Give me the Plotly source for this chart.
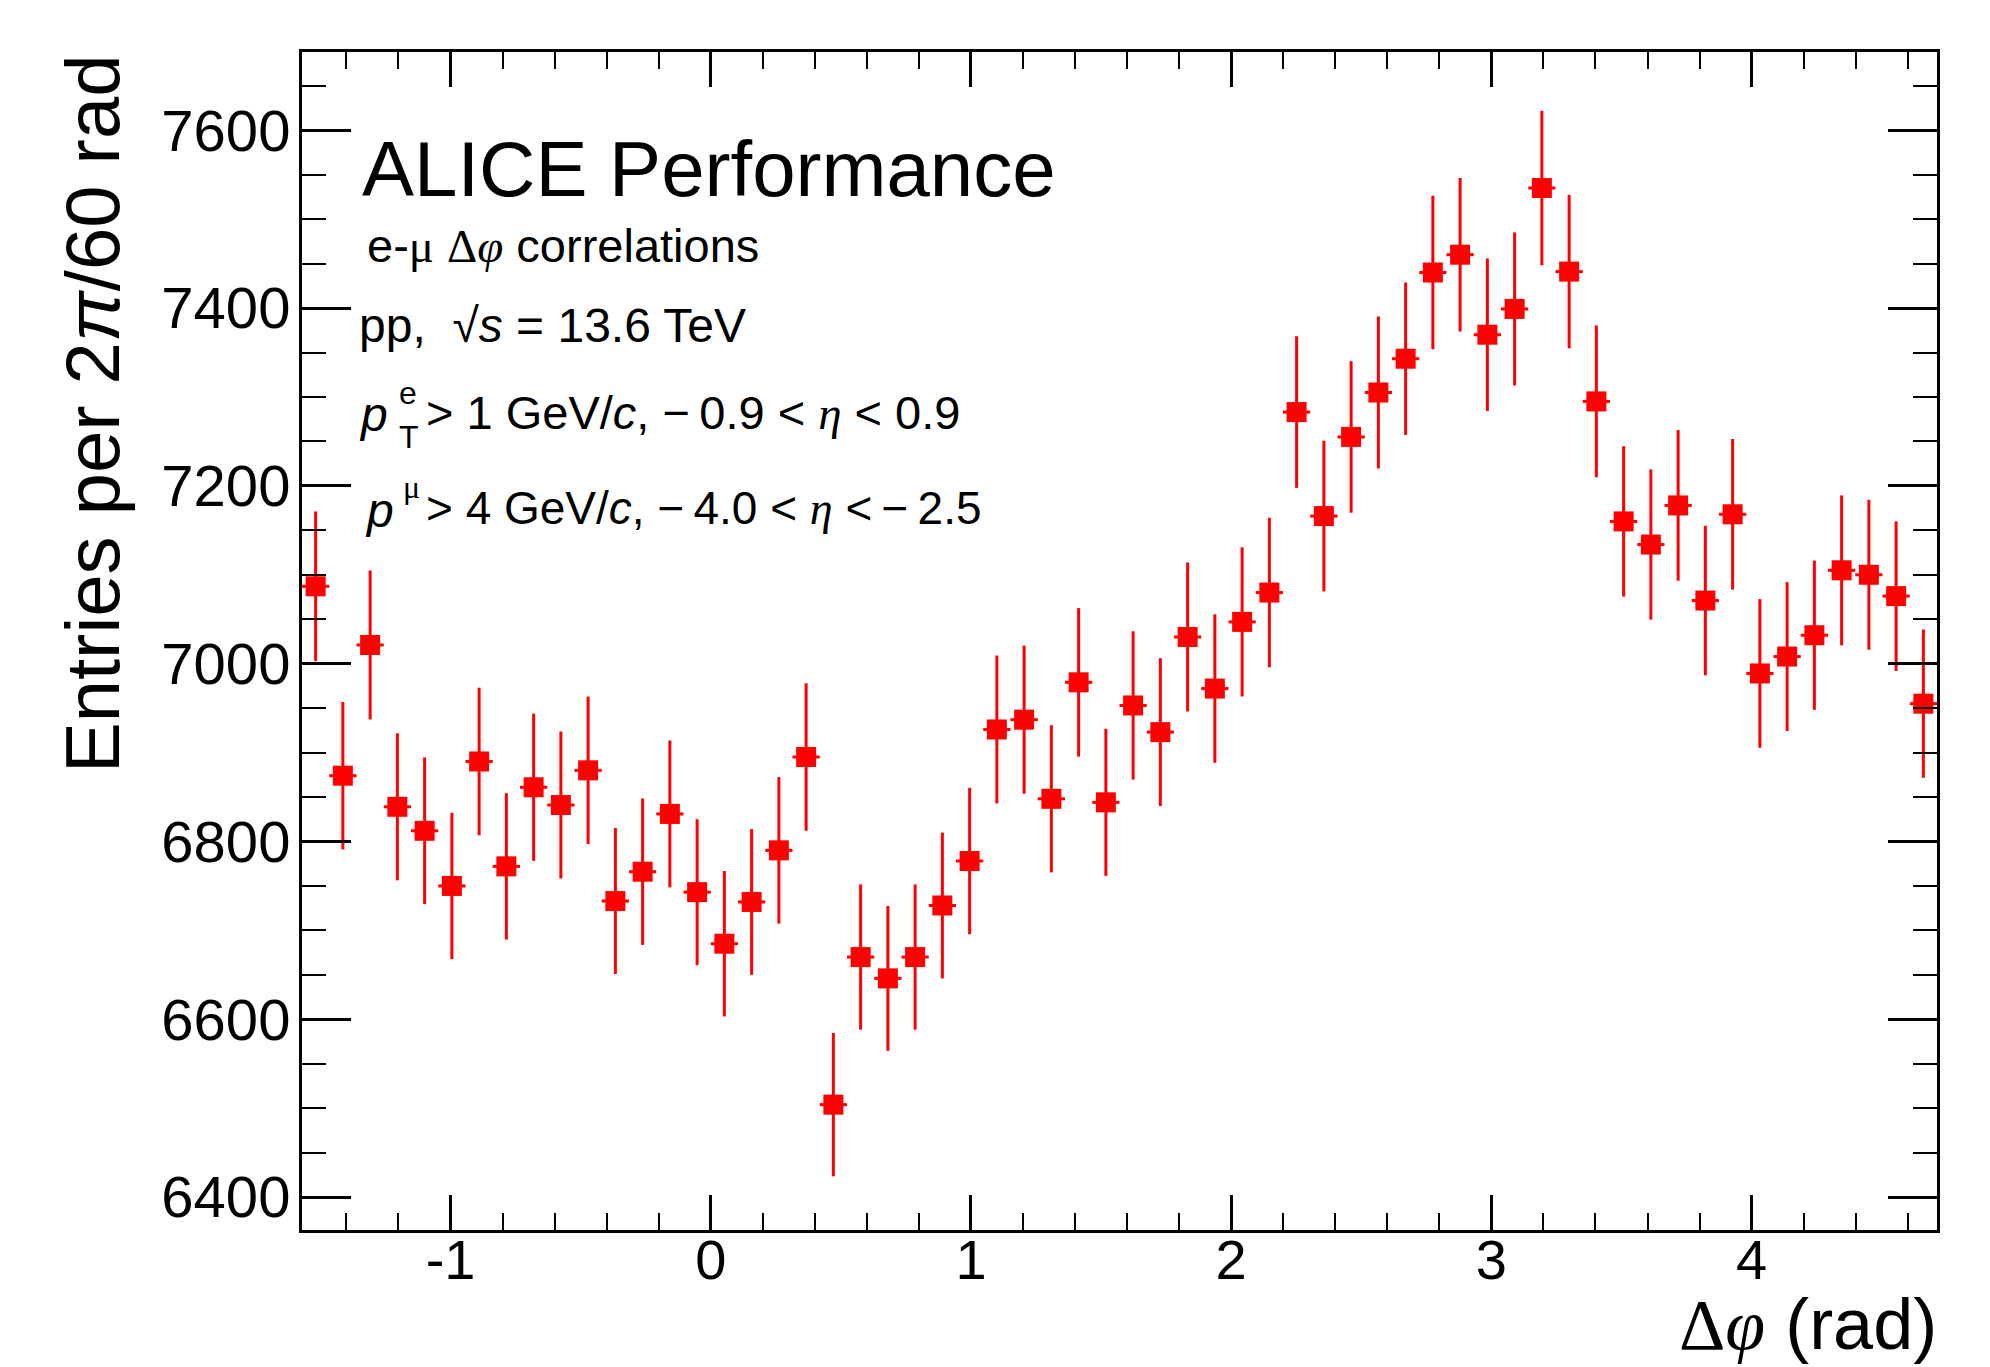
import numpy as np
import plotly.graph_objects as go

# ---------------- data ----------------
n_bins = 60
x_low = -np.pi / 2
x_high = 3 * np.pi / 2

entries = [7087, 6874, 7021, 6839, 6812, 6750, 6890, 6772, 6861, 6841,
           6880, 6733, 6766, 6831, 6743, 6685, 6732, 6790, 6895, 6504,
           6670, 6646, 6670, 6728, 6778, 6926, 6937, 6848, 6979, 6844,
           6953, 6923, 7030, 6972, 7047, 7080, 7283, 7166, 7255, 7305,
           7343, 7440, 7460, 7370, 7399, 7535, 7441, 7295, 7160, 7134,
           7178, 7071, 7168, 6989, 7008, 7032, 7105, 7100, 7076, 6955]

errors = [84.2, 82.9, 83.8, 82.7, 82.5, 82.2, 83.0, 82.3, 82.8, 82.7,
          82.9, 82.1, 82.3, 82.6, 82.1, 81.8, 82.0, 82.4, 83.0, 80.6,
          81.7, 81.5, 81.7, 82.0, 82.3, 83.2, 83.3, 82.8, 83.5, 82.7,
          83.4, 83.2, 83.8, 83.5, 83.9, 84.1, 85.3, 84.7, 85.2, 85.5,
          85.7, 86.3, 86.4, 85.8, 86.0, 86.8, 86.3, 85.4, 84.6, 84.5,
          84.7, 84.1, 84.7, 83.6, 83.7, 83.9, 84.3, 84.3, 84.1, 83.4]

x_tickvals = [-1, 0, 1, 2, 3, 4]
x_ticktext = ["-1", "0", "1", "2", "3", "4"]
y_tickvals = [6400, 6600, 6800, 7000, 7200, 7400, 7600]
y_ticktext = ["6400", "6600", "6800", "7000", "7200", "7400", "7600"]
y_range = [6363, 7688]

edges = np.linspace(x_low, x_high, n_bins + 1)
centers = 0.5 * (edges[:-1] + edges[1:])
half_width = 0.5 * (edges[1] - edges[0])

# ---------------- geometry ----------------
W, H = 1990, 1367
L, R, T, B = 302, 1937, 52, 1230  # frame in pixels

def px(xp):
    return (xp - L) / (R - L)

def py(yp):
    return (B - yp) / (B - T)

SANS = "Liberation Sans, Arial, Helvetica, sans-serif"
RED = "#ff0000"

fig = go.Figure()
fig.add_trace(go.Scatter(
    x=centers, y=entries,
    mode="markers",
    marker=dict(symbol="square", size=20, color=RED, line=dict(width=0)),
    error_y=dict(type="data", array=errors, visible=True, color=RED,
                 thickness=3, width=0),
    error_x=dict(type="constant", value=half_width, visible=True, color=RED,
                 thickness=3, width=0),
    showlegend=False,
    hoverinfo="x+y",
))

fig.update_layout(
    width=W, height=H,
    margin=dict(l=L, r=W - R, t=T, b=H - B, pad=0),
    paper_bgcolor="white", plot_bgcolor="white",
    font=dict(family=SANS, color="black"),
    xaxis=dict(
        range=[x_low, x_high], showgrid=False, zeroline=False,
        showline=True, linecolor="black", linewidth=3, mirror="allticks",
        ticks="inside", ticklen=35, tickwidth=3, tickcolor="black",
        tickmode="array", tickvals=x_tickvals, ticktext=x_ticktext,
        tickfont=dict(size=56, family=SANS, color="black"),
        ticklabelstandoff=-21,
        minor=dict(ticks="inside", ticklen=17, tickwidth=2, tickcolor="black",
                   tick0=0, dtick=0.2, showgrid=False),
    ),
    yaxis=dict(
        range=y_range, showgrid=False, zeroline=False,
        showline=True, linecolor="black", linewidth=3, mirror="allticks",
        ticks="inside", ticklen=49, tickwidth=3, tickcolor="black",
        tickmode="array", tickvals=y_tickvals, ticktext=y_ticktext,
        tickfont=dict(size=58, family=SANS, color="black"),
        ticklabelstandoff=-3,
        minor=dict(ticks="inside", ticklen=24, tickwidth=2, tickcolor="black",
                   tick0=6400, dtick=50, showgrid=False),
    ),
)

ann = []
def add_text(text, x, y, size, xanchor="left", yanchor="middle", angle=0, family=SANS):
    ann.append(dict(text=text, x=px(x), y=py(y), xref="paper", yref="paper",
                    xanchor=xanchor, yanchor=yanchor, showarrow=False,
                    textangle=angle, font=dict(size=size, family=family, color="black")))

phi = '<span style="font-family:Liberation Serif"><i>φ</i></span>'
Delta = '<span style="font-family:Liberation Serif">Δ</span>'
mu = '<span style="font-family:Liberation Serif">μ</span>'
eta = '<span style="font-family:Liberation Serif"><i>η</i></span>'
ts = "\u2009"  # thin space

add_text("ALICE Performance", 360, 169, 78)
add_text("e-" + mu + " " + Delta + phi + " correlations", 365, 245, 47)
add_text("pp,  √<i>s</i> = 13.6 TeV", 357, 325, 48)

# line with p_T^e
add_text("<i>p</i>", 357, 414, 48)
add_text("e", 397, 393, 32)
add_text("T", 397, 437, 32)
add_text("&gt; 1 GeV/<i>c</i>, −" + ts + "0.9 &lt; " + eta + " &lt; 0.9", 424, 412, 47)

# line with p^mu
add_text("<i>p</i>", 363, 511, 48)
add_text(mu, 401, 487, 32)
add_text("&gt; 4 GeV/<i>c</i>, −" + ts + "4.0 &lt; " + eta + " &lt;" + ts + "−" + ts + "2.5", 424, 508, 46)

# axis titles
add_text(Delta + phi + " (rad)", 1939, 1324, 72, xanchor="right")
add_text("Entries per 2<i>π</i>/60 rad", 93, 53, 76, xanchor="center", yanchor="top", angle=-90)

fig.update_layout(annotations=ann)
fig.write_html("out.html")
